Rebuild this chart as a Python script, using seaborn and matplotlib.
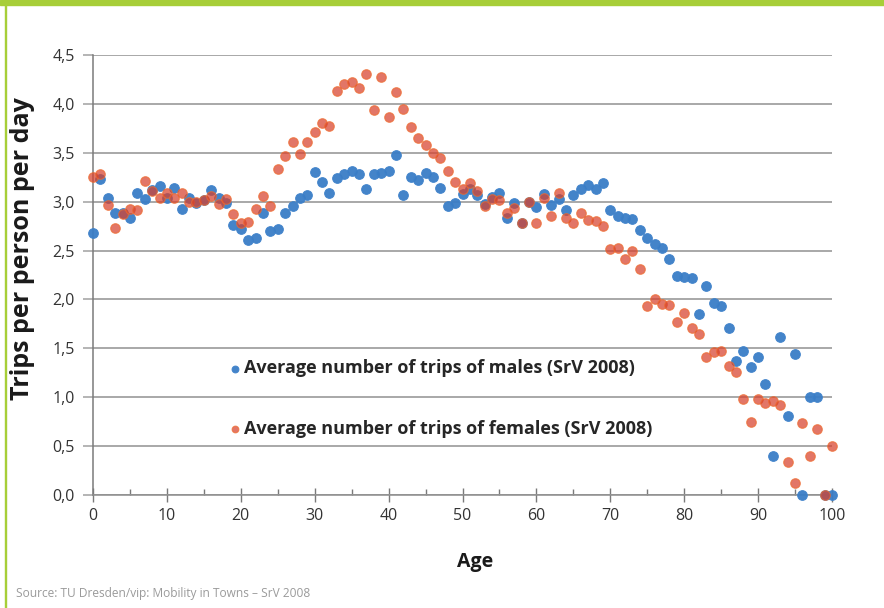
import pandas as pd
import seaborn as sns
import matplotlib.pyplot as plt
from matplotlib.patches import Rectangle
from matplotlib.ticker import FuncFormatter, MultipleLocator

# data
ages = list(range(0, 101))
trips_male = [2.68, 3.23, 3.04, 2.88, 2.88, 2.83, 3.09, 3.03, 3.12, 3.16,
              3.04, 3.14, 2.93, 3.04, 2.99, 3.02, 3.12, 3.04, 2.99, 2.76,
              2.72, 2.61, 2.63, 2.88, 2.70, 2.72, 2.88, 2.96, 3.04, 3.07,
              3.30, 3.20, 3.09, 3.24, 3.28, 3.31, 3.28, 3.13, 3.28, 3.29,
              3.31, 3.48, 3.07, 3.25, 3.22, 3.29, 3.25, 3.14, 2.96, 2.99,
              3.08, 3.13, 3.07, 2.98, 3.05, 3.09, 2.83, 2.99, 2.78, 3.00,
              2.95, 3.08, 2.97, 3.03, 2.91, 3.07, 3.13, 3.17, 3.13, 3.19,
              2.91, 2.85, 2.83, 2.82, 2.71, 2.63, 2.57, 2.53, 2.41, 2.24,
              2.23, 2.22, 1.85, 2.14, 1.96, 1.93, 1.71, 1.37, 1.47, 1.31,
              1.41, 1.14, 0.40, 1.62, 0.81, 1.44, 0.00, 1.00, 1.00, 0.00,
              0.00]
trips_female = [3.25, 3.28, 2.97, 2.73, 2.87, 2.93, 2.91, 3.21, 3.11, 3.04,
                3.09, 3.04, 3.09, 3.00, 3.00, 3.02, 3.06, 2.98, 3.03, 2.87,
                2.78, 2.79, 2.92, 3.06, 2.96, 3.33, 3.47, 3.61, 3.49, 3.61,
                3.71, 3.80, 3.77, 4.13, 4.20, 4.22, 4.16, 4.31, 3.94, 4.27,
                3.87, 4.12, 3.95, 3.76, 3.65, 3.58, 3.50, 3.45, 3.31, 3.20,
                3.13, 3.19, 3.11, 2.96, 3.03, 3.02, 2.88, 2.94, 2.78, 3.00,
                2.78, 3.04, 2.85, 3.09, 2.83, 2.78, 2.88, 2.81, 2.80, 2.75,
                2.52, 2.53, 2.41, 2.50, 2.31, 1.93, 2.00, 1.95, 1.94, 1.77,
                1.86, 1.71, 1.65, 1.41, 1.46, 1.47, 1.32, 1.26, 0.98, 0.75,
                0.98, 0.94, 0.96, 0.92, 0.34, 0.12, 0.74, 0.40, 0.67, 0.00,
                0.50]
legend_labels = ["Average number of trips of males (SrV 2008)",
                 "Average number of trips of females (SrV 2008)"]
y_ticks = [0.0, 0.5, 1.0, 1.5, 2.0, 2.5, 3.0, 3.5, 4.0, 4.5]
x_ticks = [0, 10, 20, 30, 40, 50, 60, 70, 80, 90, 100]
source_text = "Source: TU Dresden/vip: Mobility in Towns \u2013 SrV 2008"

sns.set_theme(style="white")
plt.rcParams['font.family'] = ['Open Sans', 'DejaVu Sans']

df = pd.DataFrame({"Age": ages, "male": trips_male, "female": trips_female})

fig = plt.figure(figsize=(8.84, 6.08), dpi=100)
ax = fig.add_axes([93/884, 1 - 495/608, (832 - 93)/884, (495 - 55)/608])

sns.scatterplot(data=df, x="Age", y="male", ax=ax, color="#3A7DC6",
                edgecolor="#3F82CA", s=48, linewidth=0.8, alpha=0.95,
                label=legend_labels[0], clip_on=False, zorder=3)
sns.scatterplot(data=df, x="Age", y="female", ax=ax, color="#D8412C",
                edgecolor="#EF6A2C", s=48, linewidth=0.8, alpha=0.72,
                label=legend_labels[1], clip_on=False, zorder=4)

ax.set_xlim(0, 100)
ax.set_ylim(0, 4.5)
ax.set_xticks(x_ticks)
ax.xaxis.set_minor_locator(MultipleLocator(5))
ax.set_yticks(y_ticks)
ax.yaxis.set_major_formatter(FuncFormatter(lambda v, p: f"{v:.1f}".replace(".", ",")))

ax.grid(axis="y", color="#A8A8A8", linewidth=1.4)
ax.set_axisbelow(True)
for s in ["top", "right"]:
    ax.spines[s].set_visible(False)
ax.spines["left"].set_color("#7A7A7A")
ax.spines["left"].set_linewidth(1.1)
ax.spines["bottom"].set_color("#8C8C8C")
ax.spines["bottom"].set_linewidth(1.1)

ax.tick_params(axis="y", which="major", direction="out", length=7, width=1.2,
               color="#A8A8A8", labelsize=11.5, labelcolor="#333333", pad=6, left=True)
ax.tick_params(axis="x", which="major", direction="inout", length=10, width=1.0,
               color="#7A7A7A", labelsize=11.5, labelcolor="#333333", pad=4, bottom=True)
ax.tick_params(axis="x", which="minor", direction="in", length=4, width=1.0,
               color="#7A7A7A", bottom=True)

ax.set_ylabel("Trips per person per day", fontsize=18, fontweight="bold", color="#1A1A1A")
ax.yaxis.set_label_coords(-0.079, 0.559)
ax.set_xlabel("Age", fontsize=14, fontweight="bold", color="#1A1A1A")
ax.xaxis.set_label_coords(0.517, -0.13)

ax.legend(loc="center left", bbox_to_anchor=(230/884, 1 - 398.5/608),
          bbox_transform=fig.transFigure, frameon=False,
          prop={"weight": "bold", "size": 13}, handlelength=0.5,
          handletextpad=0.3, labelspacing=2.35, borderpad=0, borderaxespad=0,
          markerscale=0.7)

# green frame bits
fig.patches.append(Rectangle((0, 1 - 5/608), 1, 5/608, transform=fig.transFigure,
                             color="#A7CE38", zorder=0))
fig.patches.append(Rectangle((4.5/884, 0), 1.8/884, 1, transform=fig.transFigure,
                             color="#A7CE38", zorder=0))

fig.text(16/884, 1 - 594/608, source_text, color="#9A9A9A", fontsize=8.6, va="center")

fig.savefig("out.png", dpi=100)
